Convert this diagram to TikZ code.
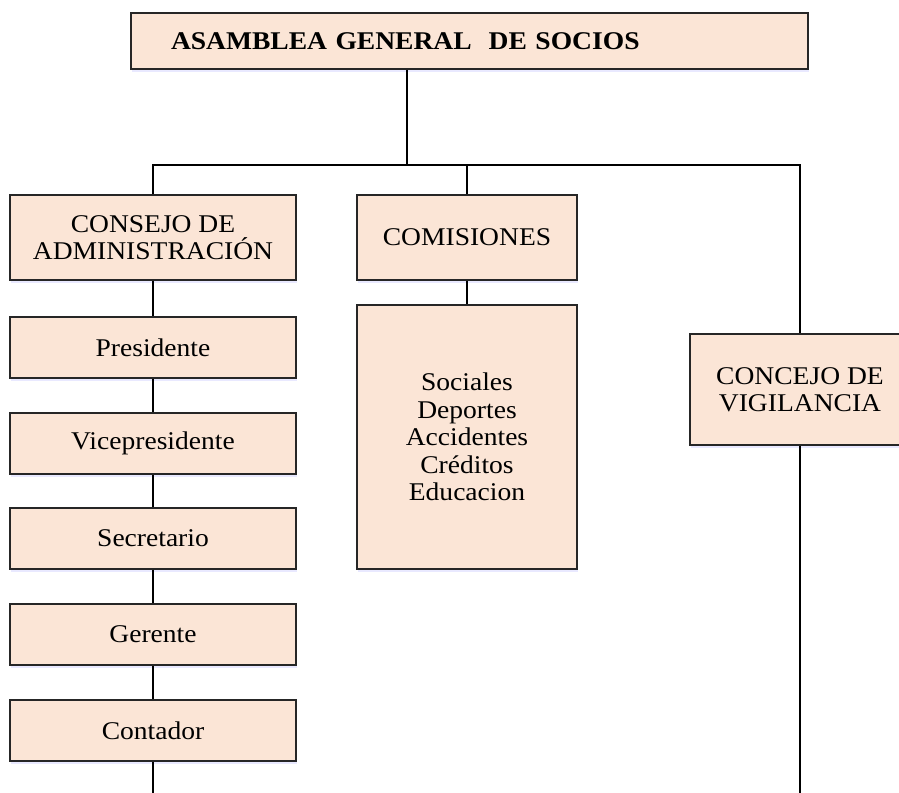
\documentclass[tikz,border=0pt]{standalone}
\usepackage{fontspec}
\setmainfont{Liberation Serif}[FakeStretch=1.08]
\usetikzlibrary{shadows}
\definecolor{durazno}{HTML}{FBE5D6}

\begin{document}
\begin{tikzpicture}[x=1pt,y=-1pt,
  caja/.style={draw=black!85,line width=1.1pt,fill=durazno,align=center,
    inner sep=0pt,font=\fontsize{25.5}{27.5}\selectfont,
    drop shadow={shadow xshift=1pt,shadow yshift=-3pt,fill=blue!25,opacity=0.35}},
  linea/.style={line width=1.7pt}]
\useasboundingbox (0,0) rectangle (899,792);
\def\wi{286}
\def\hi{61}
\node[caja,minimum height=56,inner xsep=40pt,text width=597pt,align=left,
  font=\fontsize{25.5}{27.5}\selectfont\bfseries] (asamblea) at (469.5,41) {ASAMBLEA GENERAL\ \ DE SOCIOS};
\node[caja,minimum width=\wi,minimum height=85] (consejo) at (153,237.5) {CONSEJO DE\\ADMINISTRACIÓN};
\node[caja,minimum width=220,minimum height=85] (comisiones) at (467,237.5) {COMISIONES};
\node[caja,minimum width=220,minimum height=264] (lista) at (467,437) {Sociales\\Deportes\\Accidentes\\Créditos\\Educacion};
\node[caja,minimum width=220,minimum height=111] (vigilancia) at (800,389.5) {CONCEJO DE\\VIGILANCIA};
\node[caja,minimum width=\wi,minimum height=\hi] (pres) at (153,347.5) {Presidente};
\node[caja,minimum width=\wi,minimum height=\hi] (vice) at (153,443.5) {Vicepresidente};
\node[caja,minimum width=\wi,minimum height=\hi] (secr) at (153,538.5) {Secretario};
\node[caja,minimum width=\wi,minimum height=\hi] (gere) at (153,634.5) {Gerente};
\node[caja,minimum width=\wi,minimum height=\hi] (cont) at (153,730.5) {Contador};
\coordinate (barra) at (0,165);
\coordinate (fondo) at (0,800);
\coordinate (toma) at ([xshift=-62.5pt]asamblea.south);
\draw[linea] (toma) -- (toma |- barra);
\draw[linea] (consejo.north) |- (barra -| vigilancia.north) -- (vigilancia.north);
\draw[linea] (comisiones.north) -- (comisiones.north |- barra);
\draw[linea] (comisiones.south) -- (lista.north);
\foreach \a/\b in {consejo/pres,pres/vice,vice/secr,secr/gere,gere/cont}
  \draw[linea] (\a.south) -- (\b.north);
\draw[linea] (cont.south) -- (cont.south |- fondo);
\draw[linea] (vigilancia.south) -- (vigilancia.south |- fondo);
\end{tikzpicture}
\end{document}
